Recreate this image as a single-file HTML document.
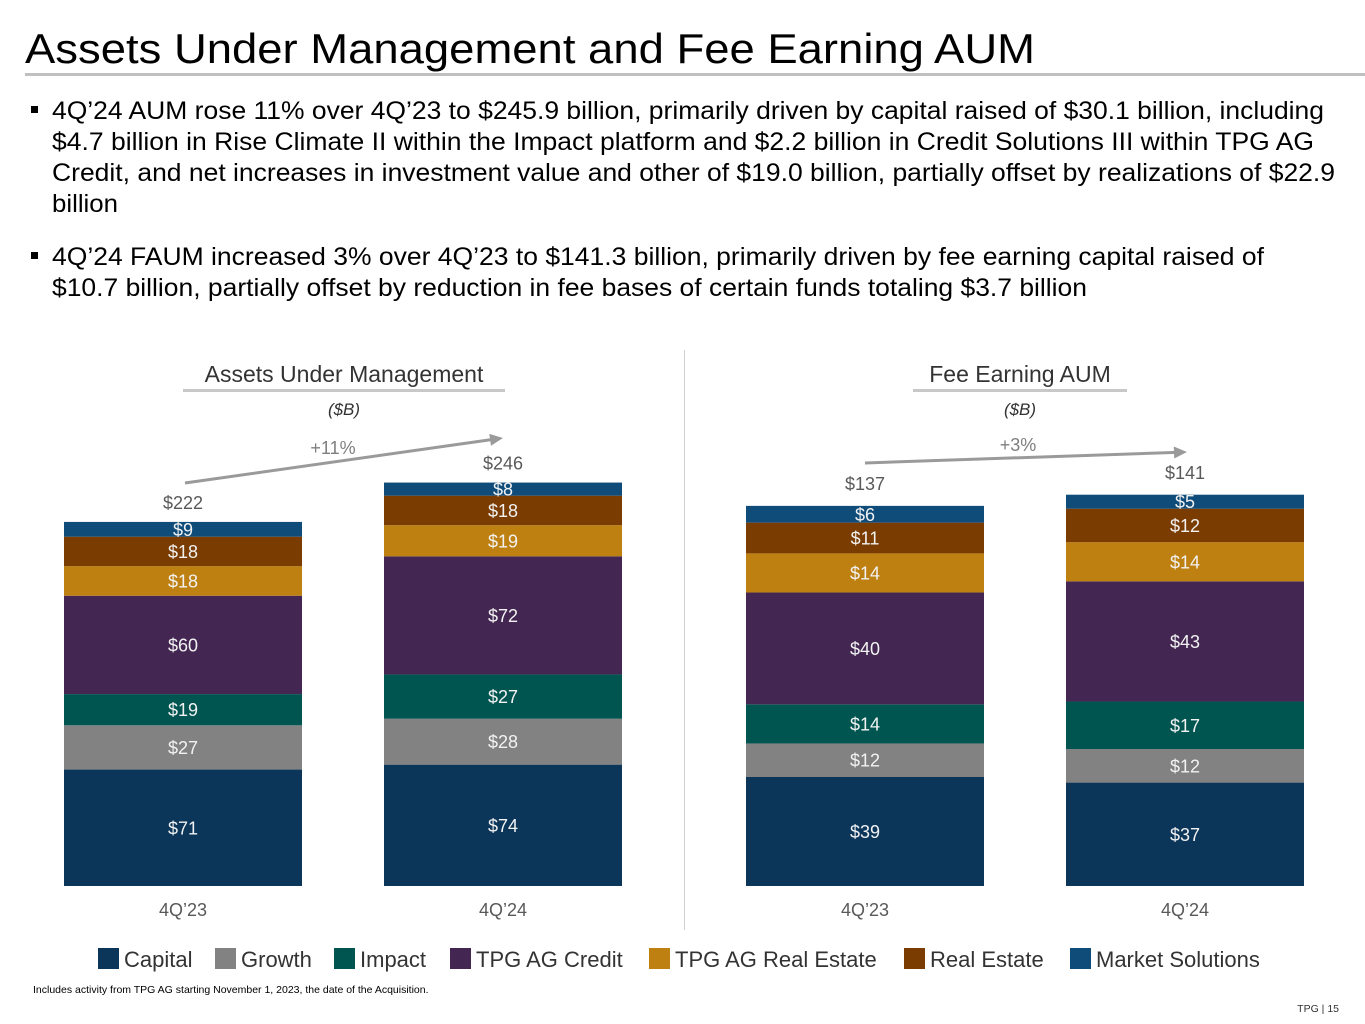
<!DOCTYPE html>
<html><head><meta charset="utf-8"><style>
html,body{margin:0;padding:0;background:#fff;}
svg{display:block;font-family:"Liberation Sans",Arial,sans-serif;}
</style></head><body>
<svg id="s" width="1365" height="1024" viewBox="0 0 1365 1024">
<text x="25" y="63" font-size="42" fill="#000" textLength="1010" lengthAdjust="spacingAndGlyphs">Assets Under Management and Fee Earning AUM</text>
<rect x="25" y="73" width="1343" height="3" fill="#c0c0c0"/>
<g font-size="25" fill="#000">
<rect x="31" y="106" width="7" height="7" fill="#000"/>
<text x="52" y="119" textLength="1272" lengthAdjust="spacingAndGlyphs">4Q’24 AUM rose 11% over 4Q’23 to $245.9 billion, primarily driven by capital raised of $30.1 billion, including</text>
<text x="52" y="150" textLength="1262" lengthAdjust="spacingAndGlyphs">$4.7 billion in Rise Climate II within the Impact platform and $2.2 billion in Credit Solutions III within TPG AG</text>
<text x="52" y="181" textLength="1283" lengthAdjust="spacingAndGlyphs">Credit, and net increases in investment value and other of $19.0 billion, partially offset by realizations of $22.9</text>
<text x="52" y="212" textLength="66" lengthAdjust="spacingAndGlyphs">billion</text>
<rect x="31" y="252" width="7" height="7" fill="#000"/>
<text x="52" y="265" textLength="1212" lengthAdjust="spacingAndGlyphs">4Q’24 FAUM increased 3% over 4Q’23 to $141.3 billion, primarily driven by fee earning capital raised of</text>
<text x="52" y="296" textLength="1035" lengthAdjust="spacingAndGlyphs">$10.7 billion, partially offset by reduction in fee bases of certain funds totaling $3.7 billion</text>
</g>
<line x1="684.5" y1="350" x2="684.5" y2="930" stroke="#d0d0d0" stroke-width="1"/>
<text x="344" y="382" font-size="23" fill="#333" text-anchor="middle">Assets Under Management</text>
<rect x="183" y="389" width="322" height="3" fill="#c8c8c8"/>
<text x="344" y="415" font-size="17" font-style="italic" fill="#333" text-anchor="middle">($B)</text>
<text x="1020" y="382" font-size="23" fill="#333" text-anchor="middle">Fee Earning AUM</text>
<rect x="913" y="389" width="214" height="3" fill="#c8c8c8"/>
<text x="1020" y="415" font-size="17" font-style="italic" fill="#333" text-anchor="middle">($B)</text>
<g id="charts"></g>
<g id="legend"></g>
<text x="33" y="993" font-size="10.5" fill="#000">Includes activity from TPG AG starting November 1, 2023, the date of the Acquisition.</text>
<text x="1339" y="1012" font-size="10.5" fill="#333" text-anchor="end">TPG | 15</text>
</svg>
<script>
const series = ["Capital","Growth","Impact","TPG AG Credit","TPG AG Real Estate","Real Estate","Market Solutions"];
const colors = ["#0b3559","#828282","#005550","#432752","#bf8012","#7a3c00","#0f4c7a"];
const categories = ["4Q’23","4Q’24"];
const aumValues = [[71,74],[27,28],[19,27],[60,72],[18,19],[18,18],[9,8]];
const aumTotals = [222,246];
const aumTotalLabels = ["$222","$246"];
const aumGrowth = "+11%";
const faumValues = [[39,37],[12,12],[14,17],[40,43],[14,14],[11,12],[6,5]];
const faumTotals = [137,141];
const faumTotalLabels = ["$137","$141"];
const faumGrowth = "+3%";

const NS="http://www.w3.org/2000/svg";
function mk(tag,attrs,parent){const e=document.createElementNS(NS,tag);for(const k in attrs)e.setAttribute(k,attrs[k]);parent.appendChild(e);return e;}
const g=document.getElementById('charts');
const base=886;
function drawChart(prefix,values,totals,labels,growth,x0s,barW,scale,arrow,growthPos){
  const yS=v=>v*scale;
  categories.forEach((c,ci)=>{
    let acc=0;const x=x0s[ci];
    values.forEach((vals,si)=>{
      const v=vals[ci];const y=base-yS(acc+v);const h=yS(v);
      const r=mk('rect',{x:x,y:y,width:barW,height:h,fill:colors[si]},g);
      
      
      const t=mk('text',{x:x+barW/2,y:y+h/2+6.5,'font-size':18,fill:'#f2f2f2','text-anchor':'middle'},g);
      t.textContent='$'+v;
      
      
      acc+=v;
    });
    const tt=mk('text',{x:x+barW/2,y:base-yS(totals[ci])-13,'font-size':18,fill:'#595959','text-anchor':'middle'},g);
    tt.textContent=labels[ci];
    
    
    const ct=mk('text',{x:x+barW/2,y:916,'font-size':18,fill:'#595959','text-anchor':'middle'},g);
    ct.textContent=c;
    
    
  });
  const ang=Math.atan2(arrow[3]-arrow[1],arrow[2]-arrow[0]);
  const l=mk('line',{x1:arrow[0],y1:arrow[1],x2:arrow[2]-10*Math.cos(ang),y2:arrow[3]-10*Math.sin(ang),stroke:'#9a9a9a','stroke-width':3},g);
  
  
  const p=[[arrow[2],arrow[3]],[arrow[2]-13*Math.cos(ang)+6*Math.sin(ang),arrow[3]-13*Math.sin(ang)-6*Math.cos(ang)],[arrow[2]-13*Math.cos(ang)-6*Math.sin(ang),arrow[3]-13*Math.sin(ang)+6*Math.cos(ang)]];
  const h=mk('polygon',{points:p.map(q=>q.join(',')).join(' '),fill:'#9a9a9a'},g);
  
  
  const gt=mk('text',{x:growthPos[0],y:growthPos[1],'font-size':18,fill:'#7f7f7f','text-anchor':'middle'},g);
  gt.textContent=growth;
  
  
}
drawChart('aum',aumValues,aumTotals,aumTotalLabels,aumGrowth,[64,384],238,1.64,[185,483,503,438],[333,454]);
drawChart('faum',faumValues,faumTotals,faumTotalLabels,faumGrowth,[746,1066],238,2.795,[865,463,1187,452],[1018,451]);

const lg=document.getElementById('legend');
const lx=[98,215,334,450,649,904,1070];
series.forEach((s,i)=>{
  const r=mk('rect',{x:lx[i],y:948,width:21,height:21,fill:colors[i]},lg);
  
  
  const t=mk('text',{x:lx[i]+26,y:967,'font-size':22,fill:'#333'},lg);
  t.textContent=s;
  
  
});
</script>
</body></html>
